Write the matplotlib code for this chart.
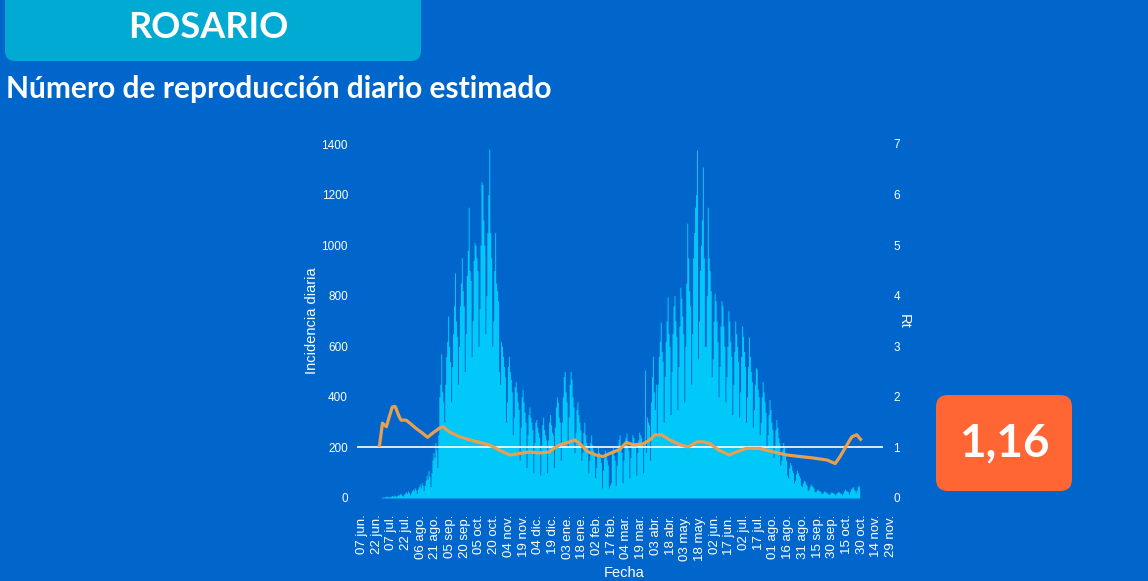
import datetime as dt
import matplotlib
matplotlib.use("Agg")
import matplotlib.pyplot as plt
from matplotlib.patches import FancyBboxPatch
import numpy as np

# daily cases, one row per week (Mon..Sun), first day 2020-06-22
CASES_START = "2020-06-22"
cases = [
    0, 0, 0, 0, 0, 2, 3,
    5, 3, 6, 8, 4, 7, 3,
    6, 8, 10, 7, 12, 9, 5,
    10, 14, 12, 18, 15, 11, 8,
    15, 20, 25, 18, 28, 22, 12,
    20, 30, 35, 28, 40, 32, 18,
    35, 45, 55, 40, 60, 50, 30,
    50, 70, 90, 75, 110, 85, 45,
    100, 150, 180, 160, 220, 190, 120,
    250, 400, 450, 570, 420, 380, 300,
    450, 560, 620, 720, 600, 540, 380,
    520, 650, 760, 890, 700, 640, 450,
    600, 760, 850, 950, 820, 760, 500,
    650, 880, 980, 1150, 900, 860, 560,
    700, 940, 1010, 1000, 950, 900, 600,
    750, 1000, 1250, 1240, 1100, 1000, 650,
    800, 1050, 1200, 1380, 1050, 950, 600,
    700, 900, 1050, 850, 820, 780, 500,
    450, 620, 600, 560, 520, 480, 300,
    380, 520, 560, 500, 470, 420, 250,
    320, 440, 460, 420, 380, 350, 150,
    280, 400, 430, 380, 340, 300, 120,
    250, 330, 360, 320, 300, 270, 100,
    220, 300, 310, 280, 260, 240, 90,
    210, 290, 320, 270, 250, 230, 100,
    230, 300, 330, 290, 260, 250, 120,
    280, 360, 400, 380, 320, 300, 150,
    300, 400, 480, 500, 420, 380, 200,
    320, 450, 500, 470, 400, 360, 180,
    260, 350, 380, 330, 300, 270, 150,
    180, 260, 300, 250, 220, 200, 100,
    150, 220, 250, 210, 190, 170, 80,
    120, 170, 200, 180, 160, 140, 40,
    110, 160, 190, 170, 150, 130, 40,
    50, 60, 180, 200, 170, 150, 50,
    130, 190, 230, 250, 200, 180, 60,
    150, 200, 240, 257, 210, 190, 80,
    160, 210, 250, 240, 220, 200, 90,
    180, 230, 260, 250, 240, 220, 100,
    220, 506, 180, 320, 300, 290, 150,
    380, 480, 560, 420, 350, 450, 250,
    450, 560, 620, 696, 580, 540, 300,
    480, 620, 700, 795, 650, 600, 330,
    500, 650, 760, 800, 700, 640, 350,
    520, 680, 834, 790, 720, 650, 380,
    600, 850, 1087, 950, 820, 760, 450,
    650, 950, 1050, 1150, 1200, 1376, 550,
    700, 900, 1000, 1100, 1309, 950, 600,
    600, 800, 1150, 950, 900, 820, 480,
    550, 700, 810, 780, 700, 620, 400,
    520, 680, 780, 760, 680, 600, 380,
    480, 600, 740, 700, 620, 560, 330,
    450, 580, 700, 650, 600, 540, 320,
    420, 560, 680, 640, 580, 520, 300,
    400, 520, 637, 560, 500, 460, 280,
    350, 450, 515, 510, 430, 400, 250,
    300, 400, 460, 420, 380, 340, 200,
    250, 330, 390, 350, 300, 270, 160,
    200, 270, 310, 280, 240, 220, 130,
    150, 190, 220, 200, 170, 150, 90,
    80, 120, 140, 130, 110, 100, 60,
    70, 95, 110, 100, 90, 80, 50,
    45, 60, 70, 65, 55, 50, 30,
    35, 45, 55, 50, 45, 40, 25,
    25, 30, 35, 30, 28, 25, 18,
    18, 25, 28, 25, 22, 20, 15,
    15, 20, 25, 22, 20, 18, 12,
    18, 22, 25, 24, 20, 18, 12,
    20, 28, 35, 30, 28, 25, 15,
    25, 35, 40, 45, 35, 30, 20,
    30, 45, 50, 40,
]

rt_dates = [
    "2020-06-25", "2020-06-28", "2020-07-02", "2020-07-05", "2020-07-08",
    "2020-07-11", "2020-07-15", "2020-07-17", "2020-07-22", "2020-07-26",
    "2020-08-01", "2020-08-08", "2020-08-13", "2020-08-18", "2020-08-25",
    "2020-08-29", "2020-09-04", "2020-09-15", "2020-09-25", "2020-10-05",
    "2020-10-15", "2020-10-25", "2020-11-05", "2020-11-15", "2020-11-25",
    "2020-12-05", "2020-12-15", "2020-12-20", "2020-12-26", "2021-01-05",
    "2021-01-10", "2021-01-15", "2021-01-24", "2021-02-01", "2021-02-08",
    "2021-02-15", "2021-02-25", "2021-03-04", "2021-03-11", "2021-03-21",
    "2021-03-28", "2021-04-02", "2021-04-09", "2021-04-17", "2021-04-28",
    "2021-05-06", "2021-05-15", "2021-05-21", "2021-05-28", "2021-06-06",
    "2021-06-17", "2021-06-24", "2021-07-04", "2021-07-18", "2021-08-01",
    "2021-08-15", "2021-08-28", "2021-09-11", "2021-09-25", "2021-10-03",
    "2021-10-08", "2021-10-15", "2021-10-20", "2021-10-25", "2021-10-29",
]
rt_values = [
    1.04, 1.48, 1.41, 1.61, 1.80,
    1.81, 1.61, 1.54, 1.54, 1.48,
    1.38, 1.28, 1.20, 1.28, 1.38,
    1.41, 1.31, 1.21, 1.15, 1.10,
    1.05, 0.95, 0.85, 0.88, 0.91,
    0.89, 0.91, 0.98, 1.05, 1.11,
    1.15, 1.08, 0.91, 0.85, 0.82,
    0.88, 0.96, 1.10, 1.05, 1.07,
    1.15, 1.25, 1.25, 1.15, 1.05,
    1.01, 1.11, 1.11, 1.08, 0.95,
    0.85, 0.91, 0.98, 0.98, 0.91,
    0.85, 0.82, 0.79, 0.75, 0.68,
    0.82, 1.05, 1.21, 1.25, 1.16,
]

rt_last = "1,16"
MESES = ["ene", "feb", "mar", "abr", "may", "jun",
         "jul", "ago", "sep", "oct", "nov", "dic"]
TICK_FIRST = "2020-06-07"
TICK_STEP_DAYS = 15
TICK_COUNT = 37
X_MIN, X_MAX = "2020-06-02", "2021-11-30"
REF_START, REF_END = "2020-06-02", "2021-11-21"

BG = "#0066cc"
BAR = "#00c8f8"
LINE = "#e8a050"
BOX = "#00aad2"
RT_BOX = "#ff6633"

W, H = 1148, 581
fig = plt.figure(figsize=(W / 100, H / 100), dpi=100, facecolor=BG)

start = np.datetime64(CASES_START)
days = start + np.arange(len(cases))
days = days.astype("datetime64[D]").astype(dt.datetime)

# axes placed in pixels: x 357..892, y 144..498
ax = fig.add_axes([357 / W, (H - 498) / H, (892 - 357) / W, (498 - 144) / H])
ax.set_facecolor(BG)
ax.fill_between(days, cases, step="mid", color=BAR, lw=0)
ax.set_ylim(0, 1400)
ax.set_yticks(range(0, 1401, 200))
ax.set_xlim(dt.datetime.fromisoformat(X_MIN), dt.datetime.fromisoformat(X_MAX))

t0 = dt.datetime.fromisoformat(TICK_FIRST)
ticks = [t0 + dt.timedelta(days=TICK_STEP_DAYS * i) for i in range(TICK_COUNT)]
ax.set_xticks(ticks)
ax.set_xticklabels([f"{t.day:02d} {MESES[t.month - 1]}." for t in ticks], rotation=90)

ax2 = ax.twinx()
ax2.set_ylim(0, 7)
ax2.set_yticks(range(0, 8))
ax2.hlines(1, dt.datetime.fromisoformat(REF_START), dt.datetime.fromisoformat(REF_END),
           color="white", lw=1.2)
ax2.plot([dt.datetime.fromisoformat(d) for d in rt_dates], rt_values,
         color=LINE, lw=2.3, solid_joinstyle="round")

for a in (ax, ax2):
    for s in a.spines.values():
        s.set_visible(False)
    a.tick_params(length=0, colors="white", labelsize=8.5)
    for lab in a.get_xticklabels() + a.get_yticklabels():
        lab.set_family("Liberation Sans")
ax.tick_params(axis="x", labelsize=9.5)
ax.tick_params(axis="y", pad=6.5)
ax.tick_params(axis="x", pad=12)
ax2.tick_params(axis="y", pad=1)

ax.set_ylabel("Incidencia diaria", color="white", fontsize=10.5, family="Liberation Sans", labelpad=2)
ax.set_xlabel("Fecha", color="white", fontsize=10.5, family="Liberation Sans", labelpad=4)
ax2.set_ylabel("Rt", color="white", fontsize=10.5, family="Liberation Sans",
               rotation=270, labelpad=8)

# header box
fig.add_artist(FancyBboxPatch((0.05, 5.20), 4.16, 0.9,
                              boxstyle="round,pad=0,rounding_size=0.1",
                              transform=fig.dpi_scale_trans, fc=BOX, ec="none"))
fig.text(208 / W, 1 - 28 / H, "ROSARIO", color="white", fontsize=26,
         fontweight="bold", family="Lato", ha="center", va="center")
fig.text(6 / W, 1 - 89 / H, "Número de reproducción diario estimado", color="white",
         fontsize=21.5, fontweight="bold", family="Lato", ha="left", va="center")

# current Rt box
fig.add_artist(FancyBboxPatch((9.36, 0.90), 1.36, 0.96,
                              boxstyle="round,pad=0,rounding_size=0.12",
                              transform=fig.dpi_scale_trans, fc=RT_BOX, ec="none"))
fig.text(1004 / W, 1 - 443 / H, rt_last, color="white", fontsize=33,
         fontweight="bold", family="Lato", ha="center", va="center")

fig.savefig("out.png", dpi=100, facecolor=BG)
